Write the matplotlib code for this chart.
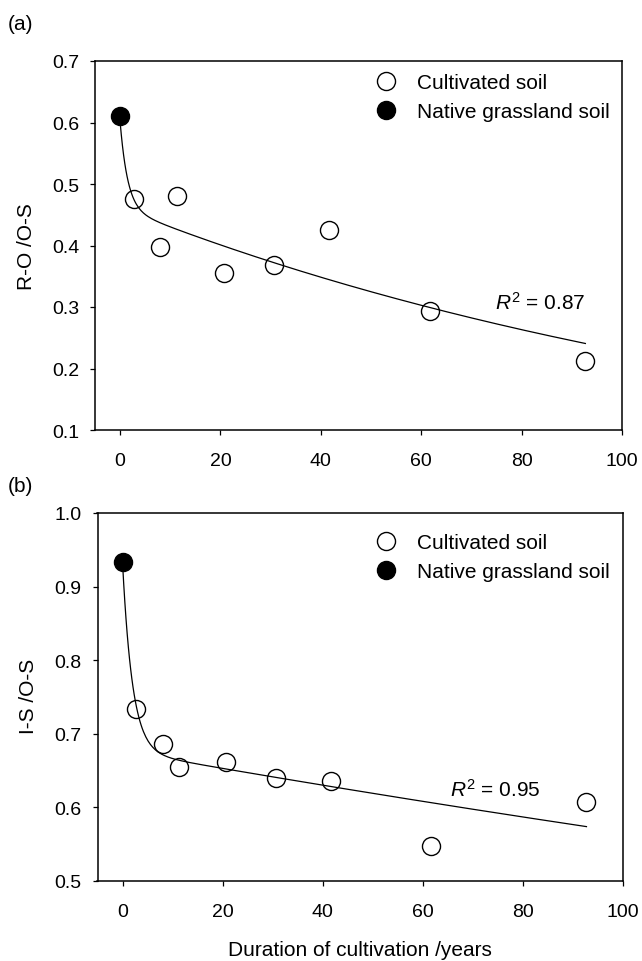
import numpy as np
import matplotlib
matplotlib.use("Agg")
import matplotlib.pyplot as plt

plt.rcParams['font.family'] = ['Liberation Sans', 'DejaVu Sans']
plt.rcParams['mathtext.fontset'] = 'custom'
plt.rcParams['mathtext.rm'] = 'Liberation Sans'
plt.rcParams['mathtext.it'] = 'Liberation Sans:italic'

# ---- data ----
native_x = [0.0]
native_a = [0.610]
native_b = [0.934]
cult_x = [2.7, 8.0, 11.3, 20.7, 30.7, 41.7, 61.7, 92.7]
cult_a = [0.475, 0.398, 0.481, 0.356, 0.369, 0.426, 0.294, 0.212]
cult_b = [0.734, 0.686, 0.655, 0.662, 0.640, 0.636, 0.548, 0.608]

# double-exponential fit parameters (a1, k1, a2, k2)
fit_a = [0.140, 0.667, 0.4614, 0.00702]
fit_b = [0.256, 0.502, 0.6766, 0.001776]
r2_a = "0.87"
r2_b = "0.95"

xticks = [0, 20, 40, 60, 80, 100]
yticks_a = [0.1, 0.2, 0.3, 0.4, 0.5, 0.6, 0.7]
yticks_b = [0.5, 0.6, 0.7, 0.8, 0.9, 1.0]

FS = 14      # tick labels
LFS = 15     # labels, legend, annotations
W, H = 642, 962
fig = plt.figure(figsize=(W / 100, H / 100), dpi=100)

def axes_px(l, t, r, b):
    return fig.add_axes([l / W, 1 - b / H, (r - l) / W, (b - t) / H])

ax1 = axes_px(95, 62, 622, 431)
ax2 = axes_px(97.5, 514, 623, 882)

def fitcurve(p, x):
    x = np.asarray(x)
    return p[0] * np.exp(-p[1] * x) + p[2] * np.exp(-p[3] * x)

def panel(ax, cy, ny, p, yticks, ylim, ylabel, r2, r2xy, lab_xy, leg_xy):
    xx = np.linspace(0, max(cult_x), 400)
    ax.plot(xx, fitcurve(p, xx), color='black', lw=0.9, zorder=2)
    ax.plot(cult_x, cy, 'o', ms=13, mfc='none', mec='black', mew=1.0,
            label='Cultivated soil', zorder=3)
    ax.plot(native_x, ny, 'o', ms=13, mfc='black', mec='black', mew=1.0,
            label='Native grassland soil', zorder=4)
    ax.set_xlim(-5, 100)
    ax.set_ylim(*ylim)
    ax.set_xticks(xticks)
    ax.set_yticks(yticks)
    ax.set_yticklabels([f"{v:.1f}" for v in yticks])
    ax.tick_params(direction='out', length=3.5, width=0.9, labelsize=FS)
    ax.tick_params(axis='x', pad=12)
    ax.tick_params(axis='y', pad=8)
    for s in ax.spines.values():
        s.set_linewidth(1.1)
    ax.set_ylabel(ylabel, fontsize=LFS)
    ax.yaxis.set_label_coords(*lab_xy)
    ax.yaxis.label.set_va('center')
    ax.text(r2xy[0], r2xy[1], r'$R^2$ = ' + r2, fontsize=LFS, ha='left', va='center')
    leg = ax.legend(loc='upper left', bbox_to_anchor=leg_xy, frameon=False,
                    fontsize=LFS, handlelength=1.0, handletextpad=1.0,
                    labelspacing=0.47, borderaxespad=0.0, numpoints=1)
    return leg

panel(ax1, cult_a, native_a, fit_a, yticks_a, (0.1, 0.7), 'R-O /O-S', r2_a,
      (74.7, 0.309), (-0.130, 0.5), (0.517, 0.99))
panel(ax2, cult_b, native_b, fit_b, yticks_b, (0.5, 1.0), 'I-S /O-S', r2_b,
      (65.5, 0.625), (-0.131, 0.505), (0.513, 0.968))

ax2.set_xlabel('Duration of cultivation /years', fontsize=LFS)
ax2.xaxis.set_label_coords(0.5, -0.185)
ax2.xaxis.label.set_va('center')

fig.text(8 / W, 1 - 24 / H, '(a)', fontsize=LFS, ha='left', va='center')
fig.text(8 / W, 1 - 487 / H, '(b)', fontsize=LFS, ha='left', va='center')

fig.savefig('out.png', dpi=100)
